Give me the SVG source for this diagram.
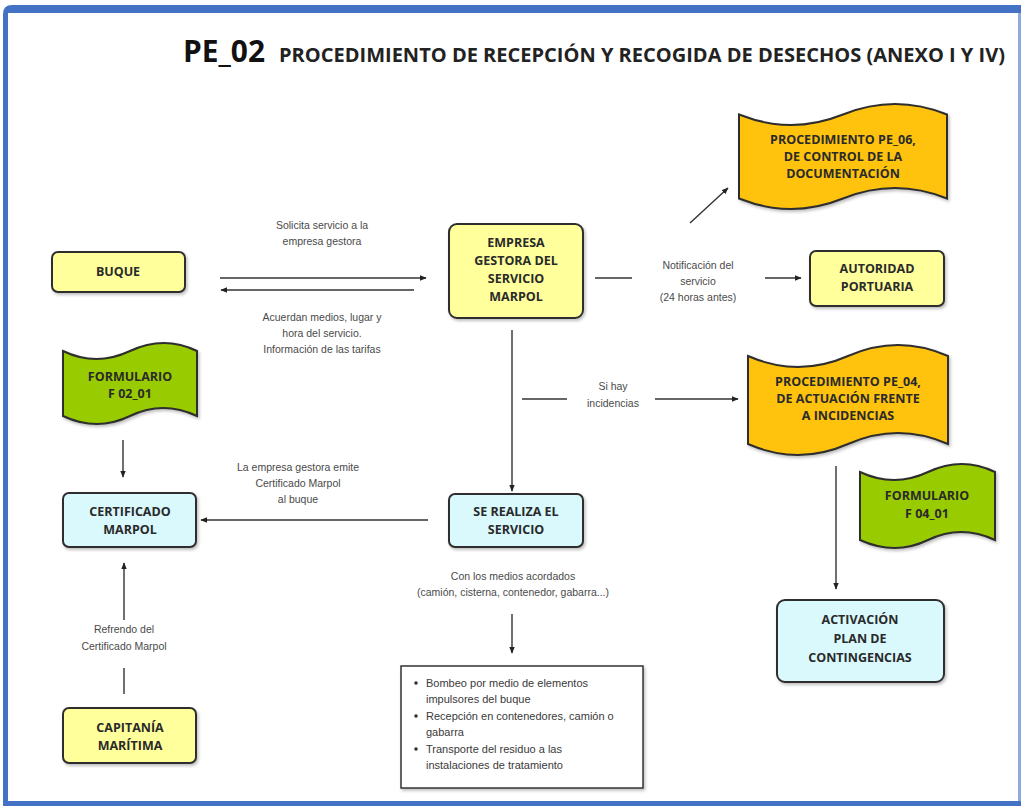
<svg xmlns="http://www.w3.org/2000/svg" width="1021" height="807" viewBox="0 0 1021 807">
<defs>
<marker id="ah" viewBox="0 0 10 10" refX="9" refY="5" markerWidth="7" markerHeight="7" orient="auto" markerUnits="userSpaceOnUse">
<path d="M0,1 L10,5 L0,9 Z" fill="#222"/>
</marker>
<filter id="sh" x="-10%" y="-10%" width="125%" height="130%">
<feDropShadow dx="1.5" dy="2" stdDeviation="1.5" flood-color="#000" flood-opacity="0.25"/>
</filter>
</defs>
<style>
.box{stroke:#2e2e2e;stroke-width:2;filter:url(#sh)}
.y{fill:#FFFF9C}
.c{fill:#D9F9FC}
.o{fill:#FFC20E}
.g{fill:#99CC00}
.nt{font-family:"Open Sans","DejaVu Sans",sans-serif;font-weight:bold;font-size:12.5px;fill:#2a2a2a;text-anchor:middle}
.lb{font-family:"Liberation Sans",Arial,sans-serif;font-size:10.5px;fill:#4a4a4a;text-anchor:middle}
.bt{font-family:"Liberation Sans",Arial,sans-serif;font-size:11px;fill:#3a3a3a}
.cn{stroke:#333;stroke-width:1.4;fill:none}
.ar{marker-end:url(#ah)}
</style>
<rect width="1021" height="807" fill="#fff"/>
<!-- frame -->
<g id="frame">
<path d="M3,806 L3,14 Q3,5 12,5 L1021,5 L1021,13 L8,13 L8,806 Z" fill="#4472C4"/>
<rect x="3" y="801" width="1018" height="5" fill="#4472C4"/>
<rect x="1018" y="5" width="3" height="801" fill="#4472C4" opacity="0.6"/>
</g>
<!-- title -->
<g id="title">
<text x="183" y="62" font-family="Open Sans, Liberation Sans, sans-serif" font-weight="bold" font-size="30" fill="#111" textLength="82" lengthAdjust="spacingAndGlyphs">PE_02</text>
<text x="279" y="62" font-family="Open Sans, Liberation Sans, sans-serif" font-weight="bold" font-size="19.5" fill="#222" textLength="726" lengthAdjust="spacingAndGlyphs">PROCEDIMIENTO DE RECEPCIÓN Y RECOGIDA DE DESECHOS (ANEXO I Y IV)</text>
</g>
<!-- connectors -->
<g id="connectors">
<line class="cn ar" x1="220" y1="278" x2="426" y2="278"/>
<line class="cn ar" x1="414" y1="290" x2="221" y2="290"/>
<line class="cn" x1="595" y1="278" x2="632" y2="278"/>
<line class="cn ar" x1="765" y1="278" x2="801" y2="278"/>
<line class="cn ar" x1="690" y1="223" x2="728" y2="188"/>
<line class="cn ar" x1="512" y1="330" x2="512" y2="491"/>
<line class="cn" x1="522" y1="399" x2="567" y2="399"/>
<line class="cn ar" x1="655" y1="399" x2="738" y2="399"/>
<line class="cn ar" x1="428" y1="520" x2="201" y2="520"/>
<line class="cn ar" x1="123" y1="440" x2="123" y2="477"/>
<line class="cn" x1="124" y1="668" x2="124" y2="694"/>
<line class="cn ar" x1="124" y1="620" x2="124" y2="563"/>
<line class="cn ar" x1="512" y1="614" x2="512" y2="653"/>
<line class="cn ar" x1="836" y1="466" x2="836" y2="589"/>
<text class="lb" x="322" y="229">Solicita servicio a la</text>
<text class="lb" x="322" y="245">empresa gestora</text>
<text class="lb" x="322" y="321">Acuerdan medios, lugar y</text>
<text class="lb" x="322" y="337">hora del servicio.</text>
<text class="lb" x="322" y="353">Información de las tarifas</text>
<text class="lb" x="698" y="269">Notificación del</text>
<text class="lb" x="698" y="285">servicio</text>
<text class="lb" x="698" y="301">(24 horas antes)</text>
<text class="lb" x="613" y="390">Si hay</text>
<text class="lb" x="613" y="407">incidencias</text>
<text class="lb" x="298" y="471">La empresa gestora emite</text>
<text class="lb" x="298" y="487">Certificado Marpol</text>
<text class="lb" x="298" y="503">al buque</text>
<text class="lb" x="124" y="633">Refrendo del</text>
<text class="lb" x="124" y="650">Certificado Marpol</text>
<text class="lb" x="513" y="580">Con los medios acordados</text>
<text class="lb" x="513" y="596">(camión, cisterna, contenedor, gabarra...)</text>
</g>
<!-- nodes -->
<g id="buque">
<rect class="box y" x="52" y="252" width="133" height="40" rx="6"/>
<text class="nt" x="118" y="276">BUQUE</text>
</g>
<g id="empresa">
<rect class="box y" x="449" y="224" width="134" height="94" rx="8"/>
<text class="nt" x="516" y="247">EMPRESA</text>
<text class="nt" x="516" y="265">GESTORA DEL</text>
<text class="nt" x="516" y="283">SERVICIO</text>
<text class="nt" x="516" y="301">MARPOL</text>
</g>
<g id="autoridad">
<rect class="box y" x="810" y="251" width="134" height="55" rx="6"/>
<text class="nt" x="877" y="273">AUTORIDAD</text>
<text class="nt" x="877" y="291">PORTUARIA</text>
</g>
<g id="pe06">
<path class="box o" d="M739,114.5 Q791,135.5 843,114.5 T947,114.5 L947,198.5 Q895,177.5 843,198.5 T739,198.5 Z"/>
<text class="nt" x="843" y="144">PROCEDIMIENTO PE_06,</text>
<text class="nt" x="843" y="161">DE CONTROL DE LA</text>
<text class="nt" x="843" y="178">DOCUMENTACIÓN</text>
</g>
<g id="pe04">
<path class="box o" d="M748,356 Q798,378 848,356 T948,356 L948,444 Q898,422 848,444 T748,444 Z"/>
<text class="nt" x="848" y="386">PROCEDIMIENTO PE_04,</text>
<text class="nt" x="848" y="403">DE ACTUACIÓN FRENTE</text>
<text class="nt" x="848" y="420">A INCIDENCIAS</text>
</g>
<g id="f0201">
<path class="box g" d="M63,351 Q96,367 130,351 T197,351 L197,416 Q163,400 130,416 T63,416 Z"/>
<text class="nt" x="130" y="381">FORMULARIO</text>
<text class="nt" x="130" y="398">F 02_01</text>
</g>
<g id="f0401">
<path class="box g" d="M860,472 Q894,488 928,472 T995,472 L995,540 Q961,524 928,540 T860,540 Z"/>
<text class="nt" x="927" y="500">FORMULARIO</text>
<text class="nt" x="927" y="518">F 04_01</text>
</g>
<g id="certificado">
<rect class="box c" x="63" y="493" width="133" height="54" rx="6"/>
<text class="nt" x="130" y="516">CERTIFICADO</text>
<text class="nt" x="130" y="534">MARPOL</text>
</g>
<g id="servicio">
<rect class="box c" x="449" y="494" width="134" height="53" rx="6"/>
<text class="nt" x="516" y="516">SE REALIZA EL</text>
<text class="nt" x="516" y="534">SERVICIO</text>
</g>
<g id="activacion">
<rect class="box c" x="777" y="600" width="167" height="82" rx="8"/>
<text class="nt" x="860" y="624">ACTIVACIÓN</text>
<text class="nt" x="860" y="643">PLAN DE</text>
<text class="nt" x="860" y="662">CONTINGENCIAS</text>
</g>
<g id="capitania">
<rect class="box y" x="63" y="708" width="133" height="55" rx="6"/>
<text class="nt" x="130" y="732">CAPITANÍA</text>
<text class="nt" x="130" y="750">MARÍTIMA</text>
</g>
<g id="acciones">
<rect x="401" y="666" width="242" height="122" fill="#fff" stroke="#333" stroke-width="1.5" filter="url(#sh)"/>
<g class="bt">
<circle cx="416" cy="683" r="1.8" fill="#333"/>
<text x="426" y="687">Bombeo por medio de elementos</text>
<text x="426" y="703">impulsores del buque</text>
<circle cx="416" cy="716" r="1.8" fill="#333"/>
<text x="426" y="720">Recepción en contenedores, camión o</text>
<text x="426" y="736">gabarra</text>
<circle cx="416" cy="749" r="1.8" fill="#333"/>
<text x="426" y="753">Transporte del residuo a las</text>
<text x="426" y="769">instalaciones de tratamiento</text>
</g>
</g>
</svg>
